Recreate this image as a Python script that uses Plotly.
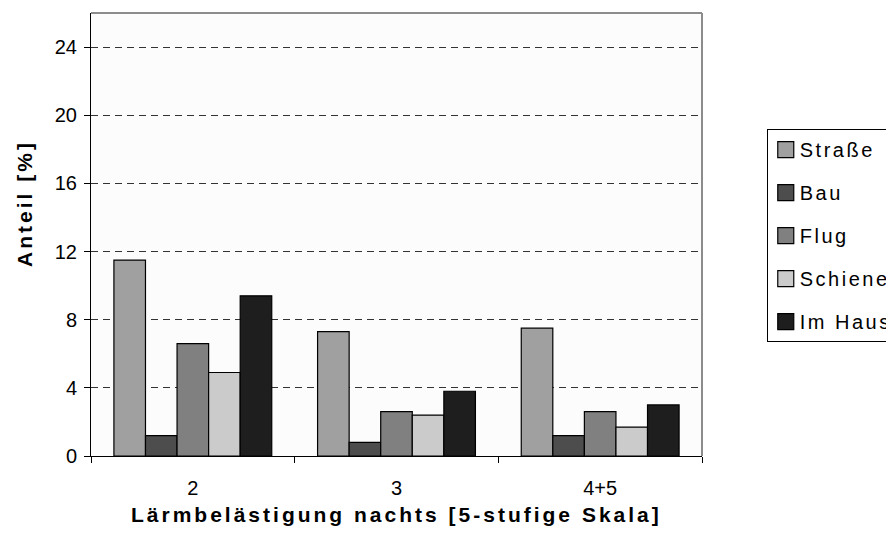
import plotly.graph_objects as go

categories = ["2", "3", "4+5"]
series_names = ["Straße", "Bau", "Flug", "Schiene", "Im Haus"]
strasse = [11.5, 7.3, 7.5]
bau = [1.2, 0.8, 1.2]
flug = [6.6, 2.6, 2.6]
schiene = [4.9, 2.4, 1.7]
im_haus = [9.4, 3.8, 3.0]
colors = ["#a0a0a0", "#4d4d4d", "#808080", "#cbcbcb", "#1e1e1e"]
y_ticks = [0, 4, 8, 12, 16, 20, 24]
x_title = "Lärmbelästigung nachts [5-stufige Skala]"
y_title = "Anteil [%]"

values = [strasse, bau, flug, schiene, im_haus]
FONT = "Liberation Sans, Arial, sans-serif"

fig = go.Figure()
for i, (name, vals) in enumerate(zip(series_names, values)):
    fig.add_trace(go.Bar(
        x=categories, y=vals, name=name,
        legendgroup=name,
        marker=dict(color=colors[i], line=dict(color="#000000", width=1.2)),
    ))

fig.update_layout(
    width=894, height=545,
    margin=dict(l=83, r=200, t=5, b=97, autoexpand=False),
    paper_bgcolor="#ffffff",
    plot_bgcolor="#fcfcfc",
    barmode="group",
    bargap=0.225,
    bargroupgap=0,
    font=dict(family=FONT, size=20, color="#000000"),
    showlegend=True,
    legend=dict(
        x=1.106, xanchor="left", y=0.738, yanchor="top",
        bgcolor="#ffffff", bordercolor="#000000", borderwidth=1,
        font=dict(size=20, family=FONT, color="#000000"),
        traceorder="grouped", tracegroupgap=14,
        itemwidth=30,
    ),
    xaxis=dict(
        type="category",
        showline=True, linecolor="#000000", linewidth=1,
        ticks="outside", ticklen=6, tickcolor="#000000",
        tickson="boundaries",
        tickfont=dict(size=20),
        ticklabelstandoff=14,
        showgrid=False,
    ),
    yaxis=dict(
        range=[0, 26],
        tickvals=y_ticks,
        showline=True, linecolor="#000000", linewidth=1,
        ticks="outside", ticklen=6, tickcolor="#000000",
        tickfont=dict(size=20),
        ticklabelstandoff=3,
        showgrid=True, gridcolor="#333333", griddash="7px,5px", gridwidth=1,
        zeroline=False,
    ),
    annotations=[
        dict(text="<b>%s</b>" % x_title, xref="paper", yref="paper",
             x=0.5, y=0, xanchor="center", yanchor="middle", yshift=-58,
             showarrow=False, font=dict(size=21, family=FONT)),
        dict(text="<b>%s</b>" % y_title, xref="paper", yref="paper",
             x=0, y=0.569, xanchor="center", yanchor="middle", xshift=-66,
             textangle=-90, showarrow=False, font=dict(size=21, family=FONT)),
    ],
    shapes=[
        dict(type="line", xref="paper", yref="paper", x0=0, x1=1, y0=1, y1=1,
             line=dict(color="#8c8c8c", width=2)),
        dict(type="line", xref="paper", yref="paper", x0=1, x1=1, y0=0, y1=1,
             line=dict(color="#8c8c8c", width=2)),
    ],
)

post = """
var gd = document.getElementById('{plot_id}');
function restyleText(){
  gd.querySelectorAll('.legendtext').forEach(function(t){
    t.style.letterSpacing = '2.5px';
    t.setAttribute('transform', 'translate(-8,0)');
  });
  gd.querySelectorAll('.legend .legendpoints path').forEach(function(p){
    p.setAttribute('d', 'M6,8H-10V-8H6Z');
  });
  gd.querySelectorAll('.annotation-text').forEach(function(t){
    t.style.letterSpacing = '3px';
  });
}
restyleText();
setTimeout(restyleText, 0);
setTimeout(restyleText, 100);
if (gd.on) { gd.on('plotly_afterplot', restyleText); }
"""

fig.write_html("out.html", post_script=post)
